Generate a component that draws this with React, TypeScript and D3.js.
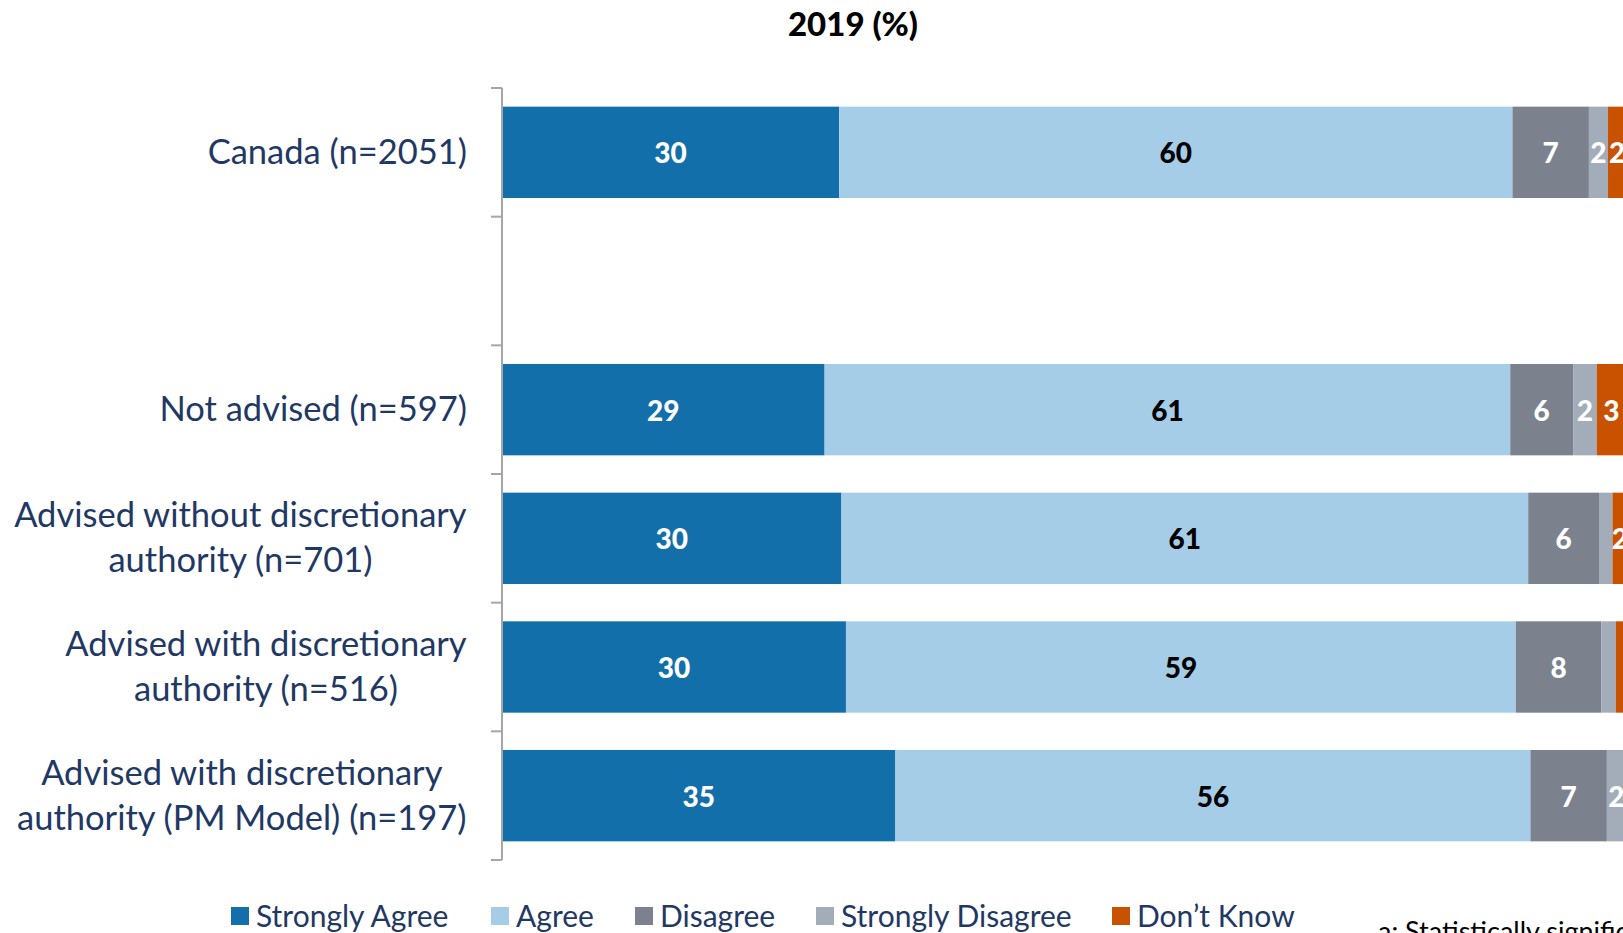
import React from "react";
import * as d3 from "d3";

const title = "2019 (%)";
const categories = [
  ["Canada (n=2051)"],
  [],
  ["Not advised (n=597)"],
  ["Advised without discretionary", "authority (n=701)"],
  ["Advised with discretionary", "authority (n=516)"],
  ["Advised with discretionary", "authority (PM Model) (n=197)"],
];
const seriesNames = ["Strongly Agree", "Agree", "Disagree", "Strongly Disagree", "Don\u2019t Know"];
const seriesColors = ["#136FAA", "#A6CDE8", "#7B828E", "#A3ACB9", "#C85200"];
const labelColors = ["#FFFFFF", "#000000", "#FFFFFF", "#FFFFFF", "#FFFFFF"];

const stronglyAgree = [30.0, null, 28.7, 30.2, 30.6, 35.0];
const agree = [59.9, null, 61.0, 61.1, 59.6, 56.5];
const disagree = [6.8, null, 5.6, 6.3, 7.6, 6.8];
const stronglyDisagree = [1.7, null, 2.1, 1.2, 1.3, 1.7];
const dontKnow = [1.6, null, 2.6, 1.3, 1.0, 0];

const labelsSA = ["30", null, "29", "30", "30", "35"];
const labelsA = ["60", null, "61", "61", "59", "56"];
const labelsD = ["7", null, "6", "6", "8", "7"];
const labelsSD = ["2", null, "2", null, null, "2"];
const labelsDK = ["2", null, "3", "2", null, null];

const footnote = "a: Statistically significant difference";

const W = 1623;
const H = 933;
const FONT = "Lato, 'Open Sans', sans-serif";
const NAVY = "#1F3864";

function measure(text: string, font: string) {
  if (typeof document === "undefined") return text.length * 15;
  const c = document.createElement("canvas");
  const ctx = c.getContext("2d")!;
  ctx.font = font;
  return ctx.measureText(text).width;
}

export default function App() {
  const series = [stronglyAgree, agree, disagree, stronglyDisagree, dontKnow];
  const labels = [labelsSA, labelsA, labelsD, labelsSD, labelsDK];
  const x = d3.scaleLinear().domain([0, 100]).range([502, 1626]);
  const y = d3
    .scaleBand<number>()
    .domain(categories.map((_, i) => i))
    .range([88, 860])
    .paddingInner(0.29)
    .paddingOuter(0.145);
  const step = y.step();
  const catFontSize = 34.5;
  const catFont = `${catFontSize}px Lato`;
  const lineH = 45;
  const labelRight = 467;

  const rows = categories.map((lines, i) => {
    let cum = 0;
    const segs = series.map((s, k) => {
      const v = s[i];
      if (v == null) return null;
      const x0 = x(cum);
      cum += v;
      const x1 = x(cum);
      return { k, x0, x1, label: labels[k][i] };
    });
    return { lines, segs, i };
  });

  const legendX = [231, 491, 635, 816, 1112];

  return (
    <svg
      width={W}
      height={H}
      style={{ position: "absolute", left: 0, top: 0, background: "#fff" }}
      fontFamily={FONT}
    >
      <text x={853} y={23} textAnchor="middle" dominantBaseline="central" fontWeight="900" fontSize={33} fill="#000">
        {title}
      </text>

      {rows.map((r) => {
        const by = y(r.i)!;
        const bh = y.bandwidth();
        const cy = by + bh / 2;
        const maxW = d3.max(r.lines, (l) => measure(l, catFont)) || 0;
        const cx = labelRight - maxW / 2;
        const n = r.lines.length;
        return (
          <g key={r.i}>
            {r.segs.map((s) =>
              s ? (
                <g key={s.k}>
                  <rect x={s.x0} y={by} width={Math.max(0, s.x1 - s.x0)} height={bh} fill={seriesColors[s.k]} />
                  {s.label && (
                    <text
                      x={(s.x0 + s.x1) / 2}
                      y={cy}
                      textAnchor="middle"
                      dominantBaseline="central"
                      fontWeight="900"
                      fontSize={28}
                      fill={labelColors[s.k]}
                    >
                      {s.label}
                    </text>
                  )}
                </g>
              ) : null
            )}
            {r.lines.map((l, j) => (
              <text
                key={j}
                x={cx}
                y={cy - 2 + (j - (n - 1) / 2) * lineH}
                textAnchor="middle"
                dominantBaseline="central"
                fontSize={catFontSize}
                fill={NAVY}
              >
                {l}
              </text>
            ))}
          </g>
        );
      })}

      <line x1={502} x2={502} y1={88} y2={860} stroke="#A6A6A6" strokeWidth={2} />
      {d3.range(categories.length + 1).map((t) => (
        <line key={t} x1={491} x2={502} y1={88 + t * step} y2={88 + t * step} stroke="#A6A6A6" strokeWidth={2} />
      ))}

      {seriesNames.map((nm, k) => (
        <g key={nm}>
          <rect x={legendX[k]} y={907} width={18} height={18} fill={seriesColors[k]} />
          <text x={legendX[k] + 25} y={915} dominantBaseline="central" fontSize={30} fill={NAVY}>
            {nm}
          </text>
        </g>
      ))}

      <text x={1378} y={941} fontSize={27} fill="#000">
        {footnote}
      </text>
    </svg>
  );
}
